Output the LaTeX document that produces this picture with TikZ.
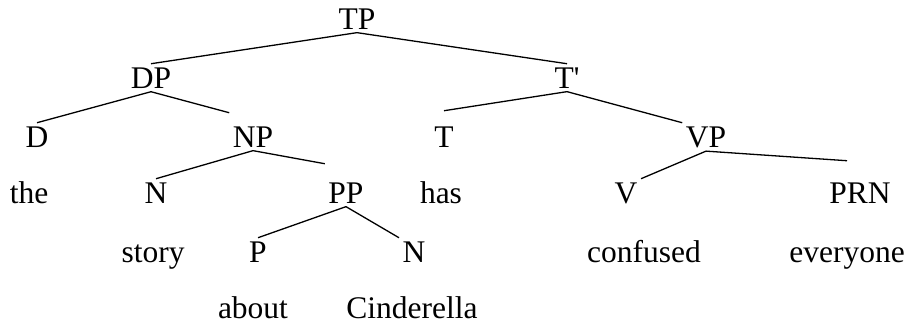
\documentclass[tikz,border=0pt]{standalone}
\usepackage{fontspec}
\setmainfont{Liberation Serif}
\begin{document}
\begin{tikzpicture}[x=1pt,y=-1pt,line width=1.3pt,
		every node/.style={anchor=base,inner sep=3pt,font=\fontsize{31.5}{36}\selectfont}]
				\useasboundingbox (0,0) rectangle (911,327);
				\node (tp) at (357,29) {TP};
				\node (dp) at (151,88) {DP};
				\node (tbar) at (567,88) {T\textquotesingle};
				\node (d) at (37,147) {D};
				\node (np) at (253,147) {NP};
				\node (t) at (444,147) {T};
				\node (vp) at (706,147) {VP};
				\node (the) at (29,203) {the};
				\node (n) at (156,203) {N};
				\node (pp) at (346,203) {PP};
				\node (has) at (441,203) {has};
				\node (v) at (626,203) {V};
				\node (prn) at (860,203) {PRN};
				\node (story) at (153,262) {story};
				\node (p) at (258,262) {P};
				\node (n2) at (414,262) {N};
				\node (confused) at (644,262) {confused};
				\node (everyone) at (847,262) {everyone};
				\node (about) at (253,318) {about};
				\node (cinderella) at (412,318) {Cinderella};
				\draw (tp.south)--(dp.north);
				\draw (tp.south)--(tbar.north);
				\draw (dp.south)--(d.north);
				\draw (dp.south)--([yshift=10pt]np.north west);
				\draw (tbar.south)--([yshift=12pt]t.north);
				\draw (tbar.south)--(vp.north west);
				\draw (np.south)--(n.north);
				\draw (np.south)--([yshift=15pt]pp.north west);
				\draw (pp.south)--(p.north);
				\draw (pp.south)--(n2.north west);
				\draw (vp.south)--(v.north east);
				\draw (vp.south)--([xshift=-13pt,yshift=18pt]prn.north);
			\end{tikzpicture}
\end{document}
